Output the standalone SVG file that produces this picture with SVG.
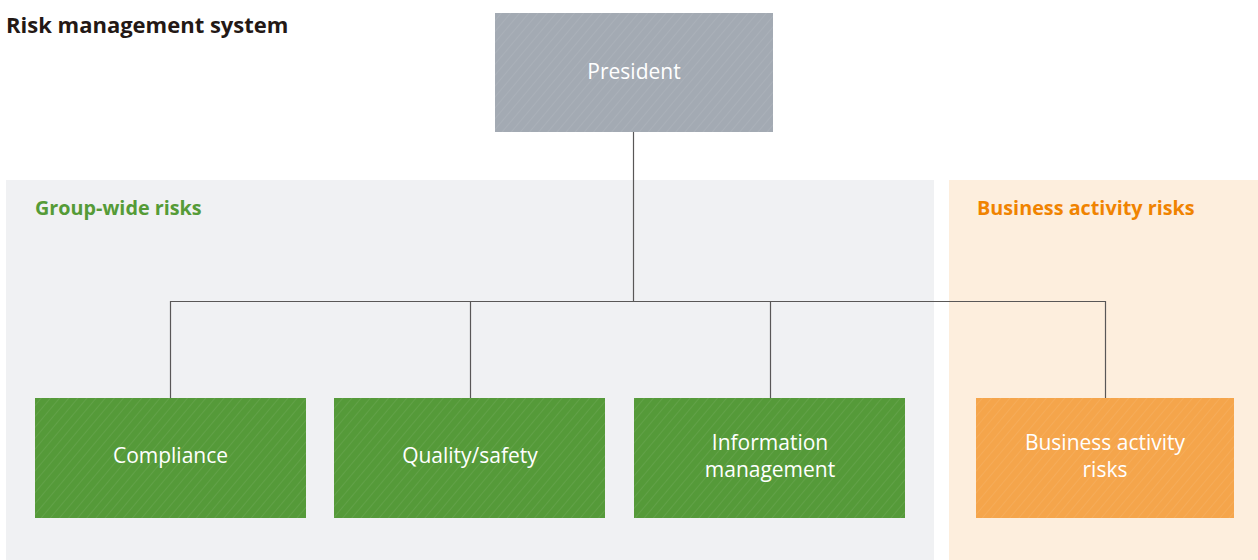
<svg xmlns="http://www.w3.org/2000/svg" width="1258" height="560" viewBox="0 0 1258 560">
<style>
.title{font-family:"Open Sans","Noto Sans","Liberation Sans",sans-serif;font-weight:bold;font-size:22px;fill:#231815}
.sec{font-family:"Open Sans","Noto Sans","Liberation Sans",sans-serif;font-weight:bold;font-size:19.8px}
.lbl{font-family:"Open Sans","Noto Sans","Liberation Sans",sans-serif;font-size:21px;fill:#ffffff;text-anchor:middle}
.conn{stroke:#595757;stroke-width:1.2;fill:none}
</style>
<defs>
<pattern id="hatch" width="7" height="7" patternUnits="userSpaceOnUse" patternTransform="rotate(40)">
<line x1="0" y1="0" x2="0" y2="7" stroke="#ffffff" stroke-opacity="0.12" stroke-width="1.2"/>
</pattern>
</defs>
<rect x="0" y="0" width="1258" height="560" fill="#ffffff"/>
<text class="title" x="6" y="33">Risk management system</text>
<g id="panel-group">
<rect x="6" y="180" width="928" height="380" fill="#f0f1f3"/>
<text class="sec" x="35" y="215" fill="#559b37">Group-wide risks</text>
</g>
<g id="panel-business">
<rect x="949" y="180" width="309" height="380" fill="#fdeedd"/>
<text class="sec" x="977" y="215" fill="#f08300">Business activity risks</text>
</g>
<g id="connectors">
<path class="conn" d="M633.5 132 V301.5 M170.5 301.5 H1105.5 M170.5 301 V398 M470.5 301 V398 M770.5 301 V398 M1105.5 301 V398"/>
</g>
<g id="president">
<rect x="495" y="13" width="278" height="119" fill="#a3aab3"/>
<rect x="495" y="13" width="278" height="119" fill="url(#hatch)"/>
<text class="lbl" x="634" y="79">President</text>
</g>
<g id="compliance">
<rect x="35" y="398" width="271" height="120" fill="#559a39"/>
<rect x="35" y="398" width="271" height="120" fill="url(#hatch)"/>
<text class="lbl" x="170.5" y="463">Compliance</text>
</g>
<g id="quality">
<rect x="334" y="398" width="271" height="120" fill="#559a39"/>
<rect x="334" y="398" width="271" height="120" fill="url(#hatch)"/>
<text class="lbl" x="470" y="463">Quality/safety</text>
</g>
<g id="information">
<rect x="634" y="398" width="271" height="120" fill="#559a39"/>
<rect x="634" y="398" width="271" height="120" fill="url(#hatch)"/>
<text class="lbl" x="770" y="450">Information</text>
<text class="lbl" x="770" y="477">management</text>
</g>
<g id="business">
<rect x="976" y="398" width="258" height="120" fill="#f5a54b"/>
<rect x="976" y="398" width="258" height="120" fill="url(#hatch)"/>
<text class="lbl" x="1105" y="450">Business activity</text>
<text class="lbl" x="1105" y="477">risks</text>
</g>
</svg>
